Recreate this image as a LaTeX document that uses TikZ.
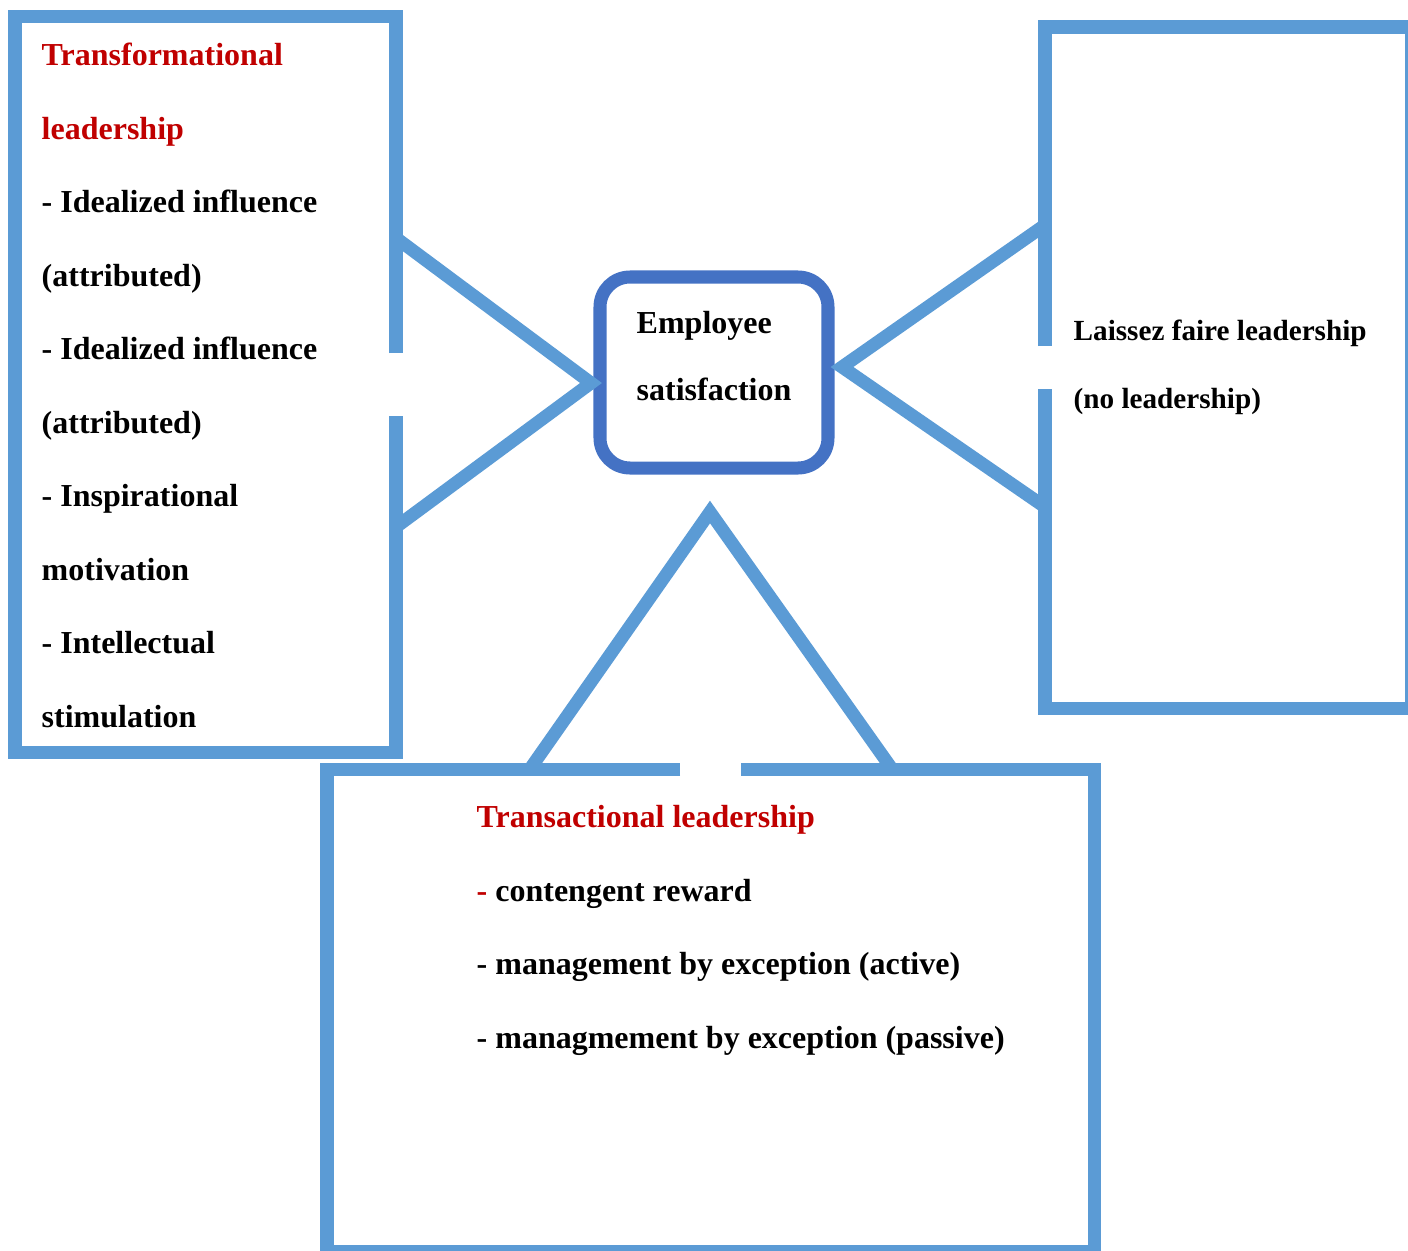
\documentclass[tikz,border=0pt]{standalone}
\usepackage{fontspec}
\setmainfont{Liberation Serif}
\usetikzlibrary{positioning}
\definecolor{frameblue}{HTML}{5B9BD5}
\definecolor{coreblue}{HTML}{4472C4}
\definecolor{headred}{HTML}{C00000}

\begin{document}
\begin{tikzpicture}[x=0.01cm, y=-0.01cm,
	frame/.style={draw=frameblue, line width=3.7pt, line join=miter},
	core/.style={draw=coreblue, line width=3.7pt, rounded corners=0.3cm},
	txt/.style={inner sep=0, anchor=base west, align=left, font=\bfseries}]
			%%%%% START %%%%%
			\useasboundingbox (0, 0) rectangle (1408, 1251);
			
			% centre box
			\draw[core] (600, 277) rectangle (828, 468);
			\coordinate (leftTip) at (591, 383);
			\coordinate (rightTip) at (842, 367);
			\coordinate (downTip) at (710, 512);
			
			% left box
			\draw[frame] (396, 353) -- (396, 16.5) -- (15, 16.5) -- (15, 752) -- (396, 752) -- (396, 416);
			\coordinate (leftUp) at (396, 238);
			\coordinate (leftDown) at (396, 527);
			\draw[frame] (leftUp) -- (leftTip) -- (leftDown);
			
			% right box
			\draw[frame] (1045, 346) -- (1045, 27) -- (1411, 27) -- (1411, 708) -- (1045, 708) -- (1045, 389);
			\coordinate (rightUp) at (1045, 225);
			\coordinate (rightDown) at (1045, 507);
			\draw[frame] (rightUp) -- (rightTip) -- (rightDown);
			
			% bottom box
			\draw[frame] (680, 769) -- (327, 769) -- (327, 1251) -- (1094, 1251) -- (1094, 769) -- (741, 769);
			\coordinate (baseL) at (530, 769);
			\coordinate (baseR) at (892, 769);
			\draw[frame] (baseL) -- (downTip) -- (baseR);
			
			% texts (placed by the baseline of their last line)
			\node[txt, font=\bfseries\fontsize{9.1}{20.9}\selectfont] (transf) at (41, 727)
				{\textcolor{headred}{Transformational}\\
				 \textcolor{headred}{leadership}\\
				 - Idealized influence\\
				 (attributed)\\
				 - Idealized influence\\
				 (attributed)\\
				 - Inspirational\\
				 motivation\\
				 - Intellectual\\
				 stimulation};
			
			\node[txt, font=\bfseries\fontsize{9.1}{19}\selectfont] (satis) at (636, 400)
				{Employee\\ satisfaction};
			
			\node[txt, font=\bfseries\fontsize{8.3}{19.3}\selectfont] (laissez) at (1073, 408)
				{Laissez faire leadership\\ (no leadership)};
			
			\node[txt, font=\bfseries\fontsize{9.1}{20.9}\selectfont] (transa) at (476, 1048)
				{\textcolor{headred}{Transactional leadership}\\
				 \textcolor{headred}{-} contengent reward\\
				 - management by exception (active)\\
				 - managmement by exception (passive)};
			
			%%%%% END %%%%%
\end{tikzpicture}
\end{document}
